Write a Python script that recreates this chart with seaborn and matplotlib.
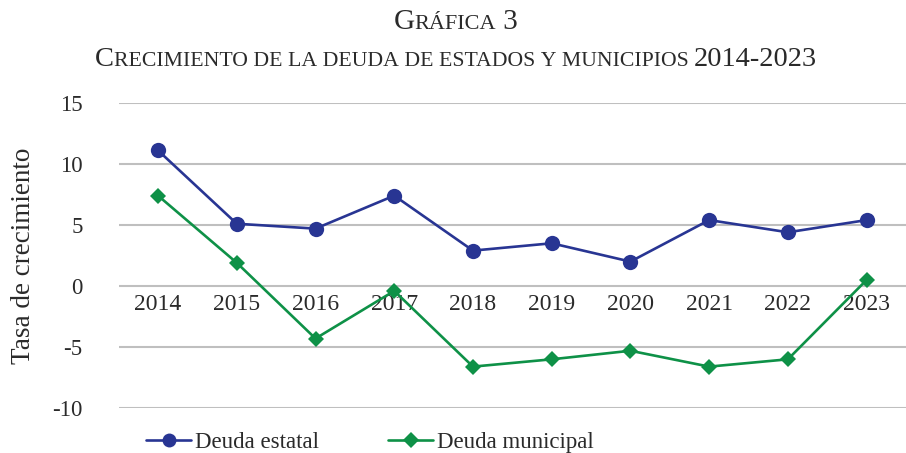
import numpy as np
import pandas as pd
import matplotlib
matplotlib.use("Agg")
import matplotlib.pyplot as plt
import seaborn as sns
from matplotlib.offsetbox import TextArea, HPacker, AnchoredOffsetbox

years = [2014, 2015, 2016, 2017, 2018, 2019, 2020, 2021, 2022, 2023]
deuda_estatal = [11.1, 5.1, 4.7, 7.4, 2.9, 3.5, 2.0, 5.4, 4.4, 5.4]
deuda_municipal = [7.4, 1.9, -4.3, -0.4, -6.6, -6.0, -5.3, -6.6, -6.0, 0.5]
series_names = ["Deuda estatal", "Deuda municipal"]
yticks = [-10, -5, 0, 5, 10, 15]

df = pd.DataFrame({
    "year": years * 2,
    "valor": deuda_estatal + deuda_municipal,
    "serie": [series_names[0]] * len(years) + [series_names[1]] * len(years),
})

sns.set_theme(style="white")
serif = ["Liberation Serif", "DejaVu Serif"]
plt.rcParams["font.family"] = serif
plt.rcParams["axes.unicode_minus"] = False
txt = "#2a2a2a"
colors = {"Deuda estatal": "#283593", "Deuda municipal": "#0E9147"}

fig = plt.figure(figsize=(9.06, 4.53), dpi=100)
ax = fig.add_axes([0.131, 0.099, 0.869, 0.674])

sns.lineplot(data=df, x="year", y="valor", hue="serie", style="serie",
             markers={"Deuda estatal": "o", "Deuda municipal": "D"},
             dashes=False, palette=colors, linewidth=1.9, markersize=11,
             markeredgewidth=0, ax=ax, legend=False, zorder=3)

# diamonds a bit smaller than circles
for line in ax.lines:
    if line.get_marker() == "D":
        line.set_markersize(8.5)

ax.set_xlim(years[0] - 0.5, years[-1] + 0.5)
ax.set_ylim(-10, 15)
ax.set_yticks(yticks)
ax.set_xticks(years)
ax.set_xticklabels([str(y) for y in years])
ax.yaxis.grid(True, color="#BFBFBF", linewidth=1.5)
ax.xaxis.grid(False)
for s in ax.spines.values():
    s.set_visible(False)
ax.spines["bottom"].set_position(("data", 0))
ax.tick_params(axis="x", length=0, pad=6, labelsize=17, labelcolor=txt)
ax.tick_params(axis="y", length=0, pad=26, labelsize=16.5, labelcolor=txt)
ax.set_xlabel("")
ax.set_ylabel("Tasa de crecimiento", fontsize=19.5, color=txt, labelpad=12)

# legend
handles = [plt.Line2D([], [], color=colors[n], marker=m, markersize=ms, linewidth=1.9,
                      markeredgewidth=0)
           for n, m, ms in zip(series_names, ["o", "D"], [10, 8])]
fig.legend(handles, series_names, loc="center", bbox_to_anchor=(0.408, 0.024), ncol=2,
           frameon=False, fontsize=16.5, handlelength=2.0, handletextpad=0.15,
           columnspacing=3.0, labelcolor=txt)


def small_caps(parts, y):
    kids = [TextArea(t, textprops=dict(fontsize=s, family=serif, color=txt)) for t, s in parts]
    box = HPacker(children=kids, align="baseline", pad=0, sep=0)
    anc = AnchoredOffsetbox(loc="center", child=box, frameon=False, pad=0, borderpad=0,
                            bbox_to_anchor=(0.503, y), bbox_transform=fig.transFigure)
    fig.add_artist(anc)


small_caps([("G", 21), ("RÁFICA", 16), ("\u00a03", 21)], 0.952)
small_caps([("C", 20.5), ("RECIMIENTO\u00a0DE\u00a0LA\u00a0DEUDA\u00a0DE\u00a0ESTADOS\u00a0Y\u00a0MUNICIPIOS\u00a0", 15.7),
            ("2014-2023", 20.5)], 0.868)

fig.savefig("out.png", dpi=100)
